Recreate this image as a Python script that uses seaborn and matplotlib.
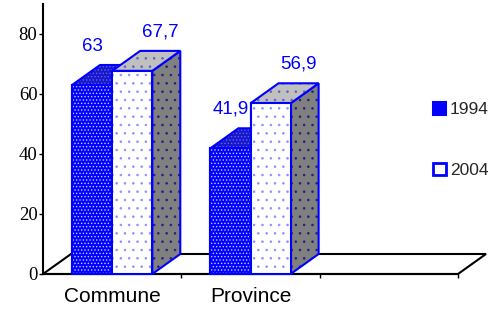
import numpy as np
import pandas as pd
import seaborn as sns
import matplotlib.pyplot as plt
from matplotlib.patches import Polygon, Patch

# data
lieux = ['Commune', 'Province']
annees = ['1994', '2004']
val_1994 = [63, 41.9]
val_2004 = [67.7, 56.9]
etiq_1994 = ['63', '41,9']
etiq_2004 = ['67,7', '56,9']
y_ticks = [0, 20, 40, 60, 80]

df = pd.DataFrame({
    'lieu': lieux * 2,
    'annee': [annees[0]] * 2 + [annees[1]] * 2,
    'valeur': val_1994 + val_2004,
})

sns.set_style('ticks', {'axes.edgecolor': 'black', 'xtick.color': 'black', 'ytick.color': 'black'})
plt.rcParams['font.family'] = ['Liberation Sans', 'DejaVu Sans']
plt.rcParams['hatch.linewidth'] = 0.6

BLEU = '#0000ff'

fig = plt.figure(figsize=(4.9, 3.1), dpi=100)
ax = fig.add_axes([43 / 490, 36 / 310, 415 / 490, 270 / 310])

sns.barplot(data=df, x='lieu', y='valeur', hue='annee', order=lieux, hue_order=annees,
            palette=[BLEU, 'white'], saturation=1, width=0.58,
            edgecolor=BLEU, linewidth=1.5, legend=False, ax=ax)

ax.set_xlim(-0.5, 2.5)
ax.set_ylim(0, 90)

# pseudo 3D depth
dx = 28 / 138.3
dz = 6.67


def face(xy, fc, hatch, hc, z):
    ax.add_patch(Polygon(xy, closed=True, facecolor=fc, edgecolor='none', zorder=z, clip_on=False))
    if hatch:
        ax.add_patch(Polygon(xy, closed=True, fill=False, hatch=hatch, edgecolor=hc, lw=0,
                             zorder=z, clip_on=False))
    ax.add_patch(Polygon(xy, closed=True, fill=False, edgecolor=BLEU, lw=1.5, zorder=z,
                         clip_on=False, joinstyle='miter'))


# floor
sol = [(-0.5, 0), (2.5, 0), (2.5 + dx, dz), (-0.5 + dx, dz)]
ax.add_patch(Polygon(sol, closed=True, facecolor='white', edgecolor='black', lw=1.5,
                     zorder=1, clip_on=False))

styles = [
    dict(fh='.....', fhc='#c8c8ff', tc='#1818c8', th='.....', thc='#6060ff', sc='#808080'),
    dict(fh='..', fhc='#9090ff', tc='#c0c0c0', th='..', thc='#6060c0', sc='#808080'),
]

etiquettes = [etiq_1994, etiq_2004]

for i, cont in enumerate(ax.containers):
    st = styles[i]
    for j, r in enumerate(cont.patches):
        x0, w, h = r.get_x(), r.get_width(), r.get_height()
        top = [(x0, h), (x0 + w, h), (x0 + w + dx, h + dz), (x0 + dx, h + dz)]
        side = [(x0 + w, 0), (x0 + w + dx, dz), (x0 + w + dx, h + dz), (x0 + w, h)]
        face(side, st['sc'], '..', '#202080', 2 + 2 * i)
        face(top, st['tc'], st['th'], st['thc'], 2 + 2 * i)
        r.set_zorder(3 + 2 * i)
        face([(x0, 0), (x0 + w, 0), (x0 + w, h), (x0, h)], r.get_facecolor(), st['fh'], st['fhc'], 3 + 2 * i)
        ax.annotate(etiquettes[i][j], (x0 + w / 2 + i * dx, h), xytext=(0, 28),
                    textcoords='offset points', ha='center', va='center',
                    color=BLEU, fontsize=13.5, zorder=10)

sns.despine(ax=ax)
ax.spines['left'].set_linewidth(1.5)
ax.spines['bottom'].set_linewidth(1.5)
ax.spines['bottom'].set_zorder(1.5)

ax.set_yticks(y_ticks, [str(v) for v in y_ticks], fontfamily='Liberation Serif', fontsize=13.5)
ax.set_xticks([0, 1], lieux)
ax.set_xticks([0.5, 1.5, 2.5], minor=True)
ax.tick_params(axis='y', direction='out', length=3, width=1, pad=1)
ax.tick_params(axis='x', which='major', length=0, labelsize=15, pad=9)
ax.tick_params(axis='x', which='minor', direction='out', length=3, width=1)
ax.set_xlabel('')
ax.set_ylabel('')

poignees = [
    Patch(facecolor=BLEU, edgecolor=BLEU, lw=1.5),
    Patch(facecolor='white', edgecolor=BLEU, lw=2),
]
fig.legend(poignees, annees, loc='center left', bbox_to_anchor=(433 / 490, 1 - 140 / 310),
           frameon=False, fontsize=12.5, handlelength=0.72, handleheight=0.72,
           handletextpad=0.25, labelspacing=2.6, borderpad=0, borderaxespad=0)

fig.savefig('out.png', dpi=100)
